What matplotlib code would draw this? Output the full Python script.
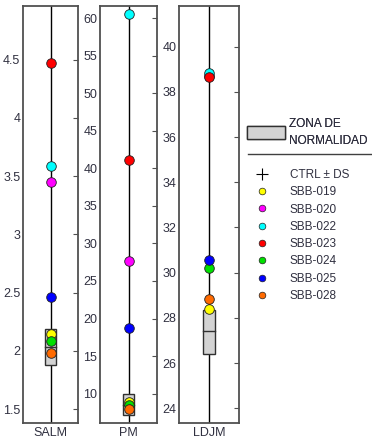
import matplotlib
matplotlib.use("Agg")
import matplotlib.pyplot as plt
from matplotlib.patches import Rectangle, Patch
from matplotlib.lines import Line2D

plt.rcParams['font.family'] = ['Liberation Sans', 'DejaVu Sans']

# samples and colours
samples = ["SBB-019", "SBB-020", "SBB-022", "SBB-023", "SBB-024", "SBB-025", "SBB-028"]
colors = ["#ffff00", "#ff00ff", "#00ffff", "#ff0000", "#00e000", "#0000ff", "#ff6a00"]

# values per panel, same order as samples
salm = [2.14, 3.45, 3.59, 4.47, 2.08, 2.46, 1.98]
pm = [8.9, 27.7, 60.5, 41.1, 8.5, 18.7, 8.0]
ldjm = [28.4, 38.7, 38.82, 38.68, 30.2, 30.55, 28.84]

# normality zone (low, median, high)
salm_zone = [1.88, 2.03, 2.19]
pm_zone = [7.2, 8.5, 9.9]
ldjm_zone = [26.4, 27.4, 28.35]

panels = ["SALM", "PM", "LDJM"]
ylims = [(1.38, 4.96), (6.1, 61.6), (23.35, 41.8)]
yticks = [[1.5, 2, 2.5, 3, 3.5, 4, 4.5],
          list(range(10, 61, 5)),
          list(range(24, 41, 2))]
ytlabels = [["1.5", "2", "2.5", "3", "3.5", "4", "4.5"], None, None]

W, H = 372, 440
fig = plt.figure(figsize=(W / 100, H / 100), dpi=100)

# axes positions in pixels: left, right
px = [(23, 78), (100, 157), (179, 239)]
top, bottom = 6, 423

spine_c = "#505050"
txt_c = "#303040"

data = [salm, pm, ldjm]
zones = [salm_zone, pm_zone, ldjm_zone]

for i, name in enumerate(panels):
    l, r = px[i]
    ax = fig.add_axes([l / W, (H - bottom) / H, (r - l) / W, (bottom - top) / H])
    ax.set_xlim(-1, 1)
    ax.set_ylim(*ylims[i])
    ax.axvline(0, color="black", lw=1.0, zorder=1)
    lo, med, hi = zones[i]
    ax.add_patch(Rectangle((-0.21, lo), 0.42, hi - lo, facecolor="#d3d3d3",
                           edgecolor="#303030", lw=1.0, zorder=2))
    ax.plot([-0.21, 0.21], [med, med], color="#303030", lw=1.0, zorder=2)
    vals = data[i]
    for j, s in enumerate(samples):
        ax.plot(0, vals[j], "o", ms=6.9, mfc=colors[j], mec="#202020",
                mew=0.6, zorder=3)
    ax.set_yticks(yticks[i])
    if ytlabels[i] is not None:
        ax.set_yticklabels(ytlabels[i])
    ax.tick_params(axis="y", left=False, right=True, labelleft=True,
                   labelright=False, direction="in", length=3.5,
                   color=spine_c, labelsize=9, labelcolor=txt_c, pad=2)
    ax.set_xticks([0])
    ax.set_xticklabels([name])
    ax.tick_params(axis="x", length=0, labelsize=9, labelcolor=txt_c, pad=3)
    for sp in ax.spines.values():
        sp.set_color(spine_c)
        sp.set_linewidth(1.3)

# legend: normality zone
leg1 = fig.legend(handles=[Patch(facecolor="#d3d3d3", edgecolor="#303030", lw=1.0)],
                  labels=["ZONA DE\nNORMALIDAD"], loc="upper left",
                  bbox_to_anchor=(241 / W, (H - 112) / H), frameon=False,
                  fontsize=8.5, handlelength=3.2, handleheight=1.3,
                  handletextpad=0.35, borderpad=0, labelcolor=txt_c)
leg1.get_texts()[0].set_linespacing(1.55)

fig.add_artist(Line2D([248 / W, 372 / W], [(H - 154) / H, (H - 154) / H],
                      color="#404040", lw=1.0))

handles = [Line2D([], [], ls="none", marker="+", ms=9, mew=0.8, color="black")]
for c in colors:
    handles.append(Line2D([], [], ls="none", marker="o", ms=4.8, mfc=c,
                          mec="#202020", mew=0.5))
labels = ["CTRL \u00b1 DS"] + samples
leg2 = fig.legend(handles=handles, labels=labels, loc="upper left",
                  bbox_to_anchor=(247 / W, (H - 163) / H), frameon=False,
                  fontsize=8.5, handlelength=1.5, handletextpad=1.6,
                  labelspacing=0.45, borderpad=0, labelcolor=txt_c)
fig.add_artist(leg1)

fig.savefig("out.png", dpi=100)
